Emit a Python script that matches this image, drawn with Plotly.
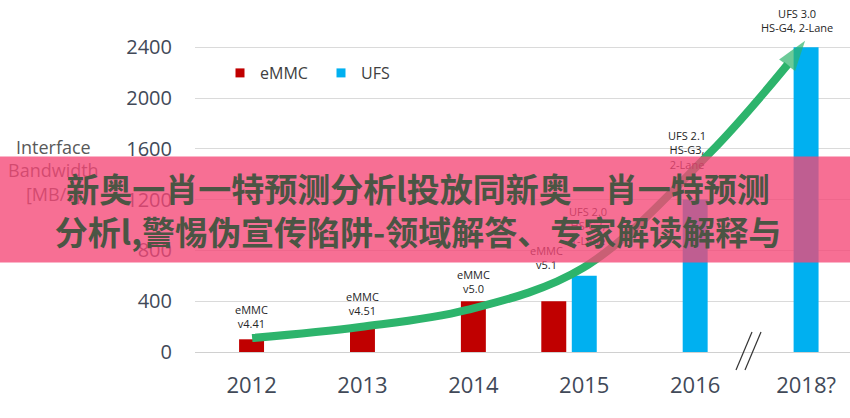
import plotly.graph_objects as go

# ---- data ----
years = ["2012", "2013", "2014", "2015", "2016", "2018?"]
emmc = [100, 200, 400, 400, None, None]
ufs = [None, None, None, 600, 1200, 2400]
emmc_labels = ["eMMC<br>v4.41", "eMMC<br>v4.51", "eMMC<br>v5.0", "eMMC<br>v5.1", None, None]
ufs_labels = [None, None, None, "UFS 2.0<br>HS-G3,<br>1-Lane", "UFS 2.1<br>HS-G3,<br>2-Lane",
              "UFS 3.0<br>HS-G4, 2-Lane"]
y_ticks = [0, 400, 800, 1200, 1600, 2000, 2400]
banner_lines = ["新奥一肖一特预测分析l投放同新奥一肖一特预测",
                "分析l,警惕伪宣传陷阱-领域解答、专家解读解释与"]

# ---- style / layout helpers ----
RED = "#c00000"
BLUE = "#00b0f0"
GREEN = "#2db46c"
BAR_W = 0.225
emmc_shift = [0, 0, 0, -0.275, 0, 0]          # 2015 eMMC bar sits left of the UFS bar
emmc_label_dx = [0, 0, 0, -0.07, 0, 0]
emmc_label_dy = [6, 7, 3, 27, 0, 0]
ufs_label_dx = [0, 0, 0, 0.03, -0.07, -0.08]
ufs_label_dy = [0, 0, 0, 26, 26, 10]

# decorative trend arrow (guide points, data space)
arrow_x = [0.005, 0.978, 1.943, 2.989, 4.134, 4.833]
arrow_y = [110, 197, 331, 662, 1569, 2263]
arrow_tip = (4.991, 2452)

xi = list(range(len(years)))

fig = go.Figure()
fig.add_bar(x=xi, y=emmc, width=BAR_W, offset=[-BAR_W / 2 + s for s in emmc_shift],
            marker=dict(color=RED, line=dict(width=0)), name="eMMC", showlegend=False)
fig.add_bar(x=xi, y=ufs, width=BAR_W, offset=[-BAR_W / 2] * len(xi),
            marker=dict(color=BLUE, line=dict(width=0)), name="UFS", showlegend=False)

# legend entries (small squares)
fig.add_scatter(x=[None], y=[None], mode="markers", name="eMMC",
                marker=dict(symbol="square", size=9, color=RED))
fig.add_scatter(x=[None], y=[None], mode="markers", name="UFS",
                marker=dict(symbol="square", size=9, color=BLUE))

# trend arrow
fig.add_scatter(x=arrow_x, y=arrow_y, mode="lines", line=dict(color=GREEN, width=8, shape="spline"),
                showlegend=False, hoverinfo="skip", cliponaxis=False)
fig.add_scatter(x=[arrow_x[-1], arrow_tip[0]], y=[arrow_y[-1], arrow_tip[1]], mode="markers",
                marker=dict(symbol="arrow", size=[0, 32], color=GREEN, angleref="previous",
                            line=dict(width=0)),
                showlegend=False, hoverinfo="skip", cliponaxis=False)

annotations = []
lab_font = dict(family="Open Sans", size=11, color="#262626")
for i in xi:
    if emmc_labels[i]:
        annotations.append(dict(x=i + emmc_shift[i] + emmc_label_dx[i], y=emmc[i], xref="x", yref="y",
                                text=emmc_labels[i], showarrow=False, xanchor="center",
                                yanchor="bottom", yshift=emmc_label_dy[i], font=lab_font))
    if ufs_labels[i]:
        annotations.append(dict(x=i + ufs_label_dx[i], y=ufs[i], xref="x", yref="y",
                                text=ufs_labels[i], showarrow=False, xanchor="center",
                                yanchor="bottom", yshift=ufs_label_dy[i], font=lab_font))

# y-axis title (horizontal, three lines)
annotations.append(dict(xref="paper", yref="paper", x=(53 - 195) / 655, y=(352 - 170) / 320,
                        xanchor="center", yanchor="middle", showarrow=False,
                        text="Interface<br>Bandwidth<br>[MB/s]",
                        font=dict(family="Open Sans", size=18, color="#595959")))

# overlay banner
annotations.append(dict(xref="paper", yref="paper", x=(418 - 195) / 655, y=(352 - 209.5) / 320,
                        xanchor="center", yanchor="middle", showarrow=False,
                        text="<br>".join(banner_lines), align="center",
                        width=900, height=105, borderpad=0,
                        bgcolor="rgba(245,70,118,0.78)",
                        font=dict(family="Noto Sans CJK SC", size=33, color="#4b5544",
                                  weight="bold")))

shapes = [
    dict(type="line", xref="paper", yref="paper", x0=(736 - 195) / 655, y0=(352 - 370) / 320,
         x1=(752 - 195) / 655, y1=(352 - 332) / 320, line=dict(color="#333333", width=1.2)),
    dict(type="line", xref="paper", yref="paper", x0=(745 - 195) / 655, y0=(352 - 370) / 320,
         x1=(761 - 195) / 655, y1=(352 - 332) / 320, line=dict(color="#333333", width=1.2)),
]

fig.update_layout(
    width=850, height=418,
    margin=dict(l=195, r=0, t=32, b=66),
    paper_bgcolor="white", plot_bgcolor="white",
    font=dict(family="Open Sans", color="#404040"),
    barmode="overlay",
    showlegend=True,
    legend=dict(orientation="h", x=(220 - 195) / 655, xanchor="left", y=(352 - 73) / 320,
                yanchor="middle", font=dict(family="Open Sans", size=16, color="#404040"),
                bgcolor="rgba(0,0,0,0)", entrywidth=56, itemwidth=30),
    xaxis=dict(range=[-0.51, 5.396], tickvals=xi, ticktext=years, showgrid=False,
               zeroline=False, showline=False, ticks="", ticklabelstandoff=18,
               tickfont=dict(family="Open Sans", size=22, color="#414958")),
    yaxis=dict(range=[0, 2520], tickvals=y_ticks, showgrid=True, gridcolor="#dadada",
               gridwidth=1, zeroline=True, zerolinecolor="#d0d0d0", zerolinewidth=1,
               showline=False, ticks="", ticklabelstandoff=22,
               tickfont=dict(family="Open Sans", size=20, color="#414958")),
    annotations=annotations,
    shapes=shapes,
)

fig.write_html("out.html", config={"displayModeBar": False},
               post_script="document.body.style.margin='0px';document.body.style.overflow='hidden';")
